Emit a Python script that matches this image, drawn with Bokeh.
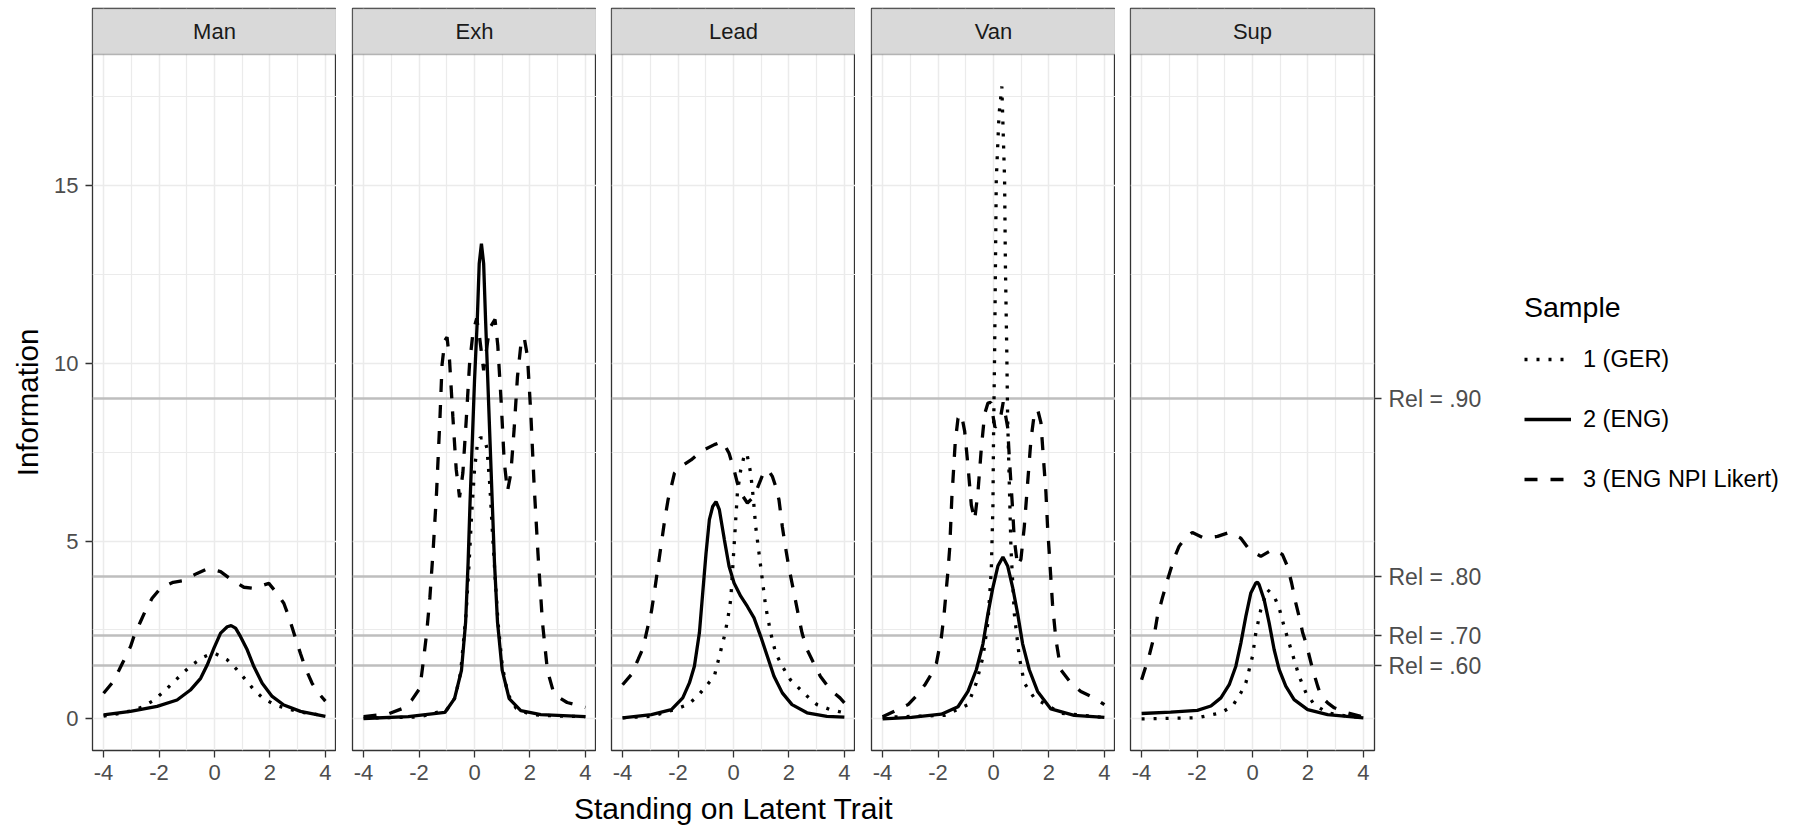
from math import pi
from bokeh.plotting import figure
from bokeh.layouts import row, column
from bokeh.models import (Range1d, FixedTicker, LinearAxis, BoxAnnotation, Label,
                          Legend, LegendItem)
from bokeh.embed import file_html
from bokeh.resources import INLINE

# ---------------- data ----------------
panels = ["Man", "Exh", "Lead", "Van", "Sup"]
sample_labels = ["1 (GER)", "2 (ENG)", "3 (ENG NPI Likert)"]
rel_info = [1.5, 7 / 3, 4.0, 9.0]
rel_labels = ["Rel = .60", "Rel = .70", "Rel = .80", "Rel = .90"]
x_ticks = [-4, -2, 0, 2, 4]
x_tick_labels = ["-4", "-2", "0", "2", "4"]
x_minor = [-3, -1, 1, 3]
y_ticks = [0, 5, 10, 15]
y_minor = [2.5, 7.5, 12.5, 17.5]
x_title = "Standing on Latent Trait"
y_title = "Information"
legend_title = "Sample"

# Man
man_ger_x = [-4.0, -3.51, -3.03, -2.61, -2.21, -1.85, -1.49, -1.15, -0.79, -0.41, -0.15, 0.04, 0.46, 0.79, 1.12, 1.44, 1.80, 2.26, 2.98, 4.0]
man_ger_y = [0.08, 0.14, 0.22, 0.33, 0.51, 0.75, 1.02, 1.28, 1.53, 1.73, 1.82, 1.83, 1.66, 1.40, 1.10, 0.80, 0.55, 0.37, 0.21, 0.08]
man_eng_x = [-4.0, -3.03, -2.07, -1.35, -0.87, -0.5, -0.26, -0.02, 0.22, 0.46, 0.6, 0.76, 0.94, 1.18, 1.42, 1.72, 2.08, 2.5, 3.1, 4.0]
man_eng_y = [0.11, 0.21, 0.35, 0.53, 0.81, 1.14, 1.52, 1.99, 2.41, 2.59, 2.62, 2.55, 2.31, 1.94, 1.47, 1.0, 0.63, 0.39, 0.21, 0.07]
man_npi_x = [-4.0, -3.67, -3.45, -3.29, -3.03, -2.91, -2.67, -2.51, -2.25, -1.95, -1.49, -1.17, -0.63, -0.23, 0.22, 0.55, 1.06, 1.42, 1.96, 2.2, 2.5, 2.68, 2.92, 3.1, 3.28, 3.52, 3.73, 4.0]
man_npi_y = [0.72, 1.03, 1.36, 1.61, 2.03, 2.31, 2.73, 3.01, 3.39, 3.67, 3.84, 3.88, 4.09, 4.23, 4.14, 3.95, 3.70, 3.67, 3.81, 3.58, 3.25, 2.87, 2.27, 1.84, 1.42, 1.0, 0.74, 0.5]

# Exh
exh_ger_x = [-4.0, -2.0, -1.0, -0.7, -0.5, -0.3, -0.2, -0.1, 0.0, 0.1, 0.2, 0.35, 0.45, 0.55, 0.65, 0.75, 0.85, 1.0, 1.2, 1.5, 2.0, 3.0, 4.0]
exh_ger_y = [0.02, 0.05, 0.25, 0.6, 1.3, 3.0, 4.3, 5.8, 7.0, 7.7, 7.9, 7.9, 7.6, 6.6, 5.2, 3.9, 2.7, 1.5, 0.7, 0.3, 0.12, 0.08, 0.06]
exh_eng_x = [-4.0, -2.39, -1.07, -0.72, -0.47, -0.32, -0.23, -0.16, -0.08, 0.0, 0.1, 0.17, 0.25, 0.33, 0.4, 0.48, 0.56, 0.64, 0.72, 0.83, 1.0, 1.25, 1.67, 2.39, 4.0]
exh_eng_y = [0.01, 0.06, 0.18, 0.57, 1.36, 2.72, 4.4, 6.1, 7.8, 9.5, 11.2, 12.8, 13.36, 12.8, 11.2, 9.5, 7.8, 6.1, 4.4, 2.72, 1.36, 0.57, 0.23, 0.12, 0.06]
exh_npi_x = [-4.0, -3.10, -2.63, -2.27, -1.97, -1.85, -1.73, -1.61, -1.49, -1.37, -1.25, -1.17, -1.07, -0.99, -0.90, -0.78, -0.66, -0.54, -0.42, -0.30, -0.18, -0.05, 0.08, 0.18, 0.33, 0.54, 0.74, 0.84, 0.96, 1.07, 1.19, 1.31, 1.43, 1.55, 1.67, 1.79, 1.91, 2.03, 2.15, 2.29, 2.45, 2.63, 2.87, 3.34, 4.0]
exh_npi_y = [0.06, 0.14, 0.28, 0.52, 0.86, 1.59, 2.38, 3.4, 4.76, 6.34, 8.38, 9.96, 10.64, 10.73, 10.08, 8.49, 7.02, 6.23, 6.91, 8.38, 9.96, 10.9, 11.26, 10.75, 9.8, 10.98, 11.23, 10.5, 8.94, 7.25, 6.4, 6.9, 8.15, 9.62, 10.5, 10.73, 10.19, 8.6, 6.57, 4.64, 2.72, 1.36, 0.69, 0.46, 0.32]

# Lead
lead_ger_x = [-4.0, -2.96, -2.13, -1.65, -1.29, -0.99, -0.69, -0.45, -0.33, -0.21, -0.1, -0.04, 0.02, 0.08, 0.14, 0.26, 0.38, 0.48, 0.62, 0.72, 0.8, 0.92, 1.04, 1.16, 1.34, 1.52, 1.76, 2.05, 2.35, 2.65, 3.01, 3.49, 4.0]
lead_ger_y = [0.03, 0.07, 0.26, 0.4, 0.64, 0.92, 1.2, 1.95, 2.32, 2.79, 3.35, 4.1, 4.85, 5.6, 6.35, 7.0, 7.38, 7.47, 6.91, 6.16, 5.41, 4.66, 3.91, 3.16, 2.42, 1.85, 1.48, 1.1, 0.87, 0.64, 0.4, 0.26, 0.17]
lead_eng_x = [-4.0, -2.96, -2.24, -1.83, -1.59, -1.41, -1.23, -1.11, -0.99, -0.87, -0.75, -0.63, -0.51, -0.33, -0.16, 0.02, 0.26, 0.5, 0.74, 0.98, 1.22, 1.46, 1.76, 2.11, 2.65, 3.37, 4.0]
lead_eng_y = [0.03, 0.12, 0.26, 0.59, 1.01, 1.48, 2.42, 3.54, 4.66, 5.6, 5.97, 6.11, 5.88, 5.04, 4.29, 3.82, 3.45, 3.16, 2.84, 2.32, 1.76, 1.2, 0.73, 0.4, 0.17, 0.07, 0.05]
lead_npi_x = [-4.0, -3.68, -3.44, -3.26, -3.14, -2.96, -2.84, -2.72, -2.60, -2.48, -2.36, -2.24, -2.13, -1.89, -1.53, -1.17, -0.69, -0.39, -0.16, 0.02, 0.14, 0.26, 0.5, 0.74, 0.98, 1.1, 1.25, 1.40, 1.52, 1.64, 1.76, 1.87, 1.99, 2.11, 2.23, 2.35, 2.47, 2.65, 2.89, 3.13, 3.49, 3.84, 4.0]
lead_npi_y = [0.96, 1.25, 1.67, 1.99, 2.42, 3.02, 3.63, 4.29, 4.94, 5.6, 6.16, 6.54, 6.91, 7.1, 7.28, 7.52, 7.71, 7.8, 7.47, 7.0, 6.63, 6.35, 6.07, 6.25, 6.72, 6.96, 7.0, 6.82, 6.54, 6.16, 5.41, 4.85, 4.29, 3.82, 3.35, 2.88, 2.42, 1.95, 1.57, 1.2, 0.82, 0.59, 0.45]

# Van
van_ger_x = [-4.0, -1.76, -0.92, -0.62, -0.38, -0.2, -0.08, -0.02, 0.0, 0.04, 0.07, 0.1, 0.2, 0.3, 0.4, 0.43, 0.48, 0.51, 0.57, 0.63, 0.75, 0.93, 1.11, 1.47, 2.43, 4.0]
van_ger_y = [0.04, 0.1, 0.4, 1.01, 1.74, 2.72, 4.18, 6.01, 7.84, 10.28, 12.72, 15.16, 17.0, 17.78, 15.16, 12.72, 10.28, 8.45, 6.62, 4.79, 2.96, 1.74, 1.01, 0.59, 0.16, 0.04]
van_eng_x = [-4.0, -2.96, -1.88, -1.28, -0.92, -0.62, -0.38, -0.2, -0.02, 0.16, 0.34, 0.51, 0.69, 0.87, 1.05, 1.29, 1.59, 2.07, 2.91, 4.0]
van_eng_y = [0.0, 0.04, 0.13, 0.34, 0.77, 1.38, 2.11, 2.96, 3.7, 4.3, 4.55, 4.3, 3.7, 2.96, 2.11, 1.38, 0.77, 0.28, 0.1, 0.04]
van_npi_x = [-4.0, -3.08, -2.78, -2.48, -2.24, -2.06, -1.88, -1.78, -1.64, -1.58, -1.5, -1.46, -1.38, -1.28, -1.16, -1.04, -0.92, -0.8, -0.68, -0.56, -0.44, -0.32, -0.2, -0.1, 0.05, 0.22, 0.35, 0.51, 0.57, 0.63, 0.69, 0.75, 0.87, 0.99, 1.11, 1.23, 1.35, 1.47, 1.59, 1.71, 1.81, 1.89, 1.95, 2.05, 2.13, 2.25, 2.43, 2.79, 3.15, 3.63, 4.0]
van_npi_y = [0.06, 0.4, 0.65, 0.95, 1.26, 1.56, 2.29, 2.96, 4.18, 4.79, 6.26, 6.74, 7.78, 8.45, 8.57, 8.09, 7.11, 6.01, 5.59, 6.38, 7.6, 8.57, 8.88, 8.9, 8.2, 8.33, 8.9, 8.2, 7.35, 6.62, 5.89, 5.04, 4.3, 4.49, 5.4, 6.62, 7.84, 8.57, 8.7, 8.33, 7.23, 6.38, 5.4, 4.18, 3.21, 2.23, 1.38, 1.01, 0.77, 0.59, 0.4]

# Sup
sup_ger_x = [-4.0, -1.99, -1.14, -0.72, -0.42, -0.24, 0.0, 0.12, 0.3, 0.54, 0.78, 0.96, 1.14, 1.32, 1.5, 1.68, 1.93, 2.23, 2.71, 3.43, 4.0]
sup_ger_y = [0.0, 0.03, 0.17, 0.36, 0.73, 1.01, 1.76, 2.42, 3.07, 3.63, 3.45, 3.12, 2.6, 2.13, 1.67, 1.2, 0.73, 0.4, 0.17, 0.07, 0.03]
sup_eng_x = [-4.0, -2.95, -1.99, -1.5, -1.14, -0.84, -0.6, -0.42, -0.24, -0.06, 0.12, 0.18, 0.24, 0.42, 0.6, 0.78, 0.96, 1.2, 1.5, 1.99, 2.71, 4.0]
sup_eng_y = [0.15, 0.19, 0.24, 0.36, 0.59, 0.96, 1.48, 2.13, 2.88, 3.54, 3.82, 3.84, 3.77, 3.35, 2.7, 1.95, 1.39, 0.92, 0.54, 0.26, 0.12, 0.03]
sup_npi_x = [-4.0, -3.73, -3.55, -3.43, -3.25, -3.07, -2.83, -2.65, -2.47, -2.17, -1.75, -1.26, -0.84, -0.42, -0.12, 0.3, 0.72, 1.08, 1.26, 1.41, 1.56, 1.68, 1.81, 1.93, 2.05, 2.17, 2.35, 2.47, 2.71, 2.95, 3.43, 3.91, 4.0]
sup_npi_y = [1.1, 1.76, 2.32, 2.88, 3.4, 3.9, 4.5, 4.85, 5.04, 5.24, 5.08, 5.13, 5.24, 5.08, 4.76, 4.57, 4.76, 4.62, 4.29, 3.82, 3.26, 2.88, 2.42, 2.13, 1.76, 1.39, 0.92, 0.64, 0.45, 0.31, 0.17, 0.07, 0.06]

panel_data = {
    "Man": [(man_ger_x, man_ger_y), (man_eng_x, man_eng_y), (man_npi_x, man_npi_y)],
    "Exh": [(exh_ger_x, exh_ger_y), (exh_eng_x, exh_eng_y), (exh_npi_x, exh_npi_y)],
    "Lead": [(lead_ger_x, lead_ger_y), (lead_eng_x, lead_eng_y), (lead_npi_x, lead_npi_y)],
    "Van": [(van_ger_x, van_ger_y), (van_eng_x, van_eng_y), (van_npi_x, van_npi_y)],
    "Sup": [(sup_ger_x, sup_ger_y), (sup_eng_x, sup_eng_y), (sup_npi_x, sup_npi_y)],
}

# ---------------- layout / style ----------------
FONT = "Liberation Sans"
X_LO, X_HI = -4.4, 4.4
Y_LO, Y_HI = -0.89, 18.68
FRAME_W = 244
PANEL_PX = 696
STRIP_PX = 46
FRAME_H = PANEL_PX + STRIP_PX
UPP = (Y_HI - Y_LO) / PANEL_PX
Y_TOP = Y_HI + STRIP_PX * UPP
TOP_B = 8
BOT_B = 40
XLAB_H = 825 - TOP_B - FRAME_H - BOT_B
YLAB_W = 45
LEFT_BORDERS = [47, 16, 15, 16, 15]
RIGHT_AXIS_B = 110
DARK = "#333333"
GRID = "#EBEBEB"
TICK_TXT = "#4D4D4D"
LW = 3.3
line_styles = [dict(line_dash="3 9"), dict(line_dash="solid"), dict(line_dash="13 13")]
NAN = float("nan")


def blank_fig(fw, fh, xr, yr, **kw):
    f = figure(frame_width=fw, frame_height=fh, x_range=xr, y_range=yr,
               output_backend="svg", toolbar_location=None,
               x_axis_location=None, y_axis_location=None,
               background_fill_color="white", border_fill_color="white",
               outline_line_color=None, **kw)
    f.grid.visible = False
    return f


def style_axis(ax, size="22px"):
    ax.axis_line_color = None
    ax.major_tick_out = 7
    ax.major_tick_in = 0
    ax.major_tick_line_color = DARK
    ax.major_tick_line_width = 1.3
    ax.minor_tick_line_color = None
    ax.major_label_standoff = 7
    ax.major_label_text_font = FONT
    ax.major_label_text_font_size = size
    ax.major_label_text_color = TICK_TXT


# y-axis title column
ylab = blank_fig(YLAB_W, FRAME_H, Range1d(0, YLAB_W), Range1d(Y_LO, Y_TOP),
                 min_border_left=0, min_border_right=0, min_border_top=TOP_B, min_border_bottom=BOT_B)
ylab.add_layout(Label(x=26.5, y=(Y_LO + Y_HI) / 2, text=y_title, angle=pi / 2,
                      text_align="center", text_baseline="middle",
                      text_font=FONT, text_font_size="29.5px", text_color="black"))

figs = [ylab]
for i, name in enumerate(panels):
    last = i == len(panels) - 1
    p = figure(frame_width=FRAME_W, frame_height=FRAME_H,
               x_range=Range1d(X_LO, X_HI), y_range=Range1d(Y_LO, Y_TOP),
               output_backend="svg", toolbar_location=None,
               y_axis_location="left" if i == 0 else None,
               min_border_left=LEFT_BORDERS[i], min_border_right=RIGHT_AXIS_B if last else 0,
               min_border_top=TOP_B, min_border_bottom=BOT_B,
               background_fill_color="white", border_fill_color="white",
               outline_line_color=DARK, outline_line_width=1.3)
    xt = FixedTicker(ticks=x_ticks, minor_ticks=x_minor)
    yt = FixedTicker(ticks=y_ticks, minor_ticks=y_minor)
    p.xaxis.ticker = xt
    style_axis(p.xaxis[0])
    p.xaxis[0].major_label_overrides = {t: l for t, l in zip(x_ticks, x_tick_labels)}
    if i == 0:
        p.yaxis.ticker = yt
        style_axis(p.yaxis[0])
    p.xgrid.ticker = xt
    p.ygrid.ticker = yt
    for g in (p.xgrid[0], p.ygrid[0]):
        g.grid_line_color = GRID
        g.grid_line_width = 1.5
        g.minor_grid_line_color = GRID
        g.minor_grid_line_width = 1.2

    p.hspan(y=rel_info, line_color="#BEBEBE", line_width=2.5)

    for (xs, ys), st in zip(panel_data[name], line_styles):
        p.line(xs, ys, line_color="black", line_width=LW, **st)

    p.add_layout(BoxAnnotation(left=X_LO, right=X_HI, bottom=Y_HI, top=Y_TOP,
                               fill_color="#D9D9D9", fill_alpha=1.0,
                               line_color=DARK, line_width=1.3))
    p.add_layout(Label(x=0, y=(Y_HI + Y_TOP) / 2, text=name, text_align="center",
                       text_baseline="middle", text_font=FONT, text_font_size="22px",
                       text_color="#1A1A1A"))

    if last:
        rax = LinearAxis(ticker=FixedTicker(ticks=rel_info),
                         major_label_overrides={v: l for v, l in zip(rel_info, rel_labels)})
        style_axis(rax, "23px")
        p.add_layout(rax, "right")
    figs.append(p)

# legend column
LEG_W = 310
leg = blank_fig(LEG_W, FRAME_H, Range1d(0, 1), Range1d(0, 1),
                min_border_left=0, min_border_right=0, min_border_top=TOP_B, min_border_bottom=BOT_B)
leg_rends = [leg.line([NAN, NAN], [NAN, NAN], line_color="black", line_width=LW, **st)
             for st in line_styles]
legend = Legend(items=[LegendItem(label=l, renderers=[r]) for l, r in zip(sample_labels, leg_rends)],
                title=legend_title, location=(40, 256), orientation="vertical",
                border_line_color=None, background_fill_alpha=0,
                glyph_width=47, glyph_height=30, label_height=30,
                label_standoff=12, spacing=30, padding=0, margin=0,
                title_text_font=FONT, title_text_font_size="28.5px",
                title_text_font_style="normal", title_text_color="black",
                title_standoff=20,
                label_text_font=FONT, label_text_font_size="23.5px",
                label_text_color="black")
leg.add_layout(legend)
figs.append(leg)

# x-axis title row
PANELS_W = 5 * FRAME_W + sum(LEFT_BORDERS[1:])
xlab = blank_fig(PANELS_W, XLAB_H, Range1d(0, PANELS_W), Range1d(0, XLAB_H),
                 min_border_left=YLAB_W + LEFT_BORDERS[0], min_border_right=0,
                 min_border_top=0, min_border_bottom=0)
xlab.add_layout(Label(x=PANELS_W / 2, y=XLAB_H - 17.5, text=x_title, text_align="center",
                      text_baseline="middle", text_font=FONT, text_font_size="30px",
                      text_color="black"))

layout = column(row(*figs, spacing=0), xlab, spacing=0)
open("out.html", "w").write(file_html(layout, INLINE))
